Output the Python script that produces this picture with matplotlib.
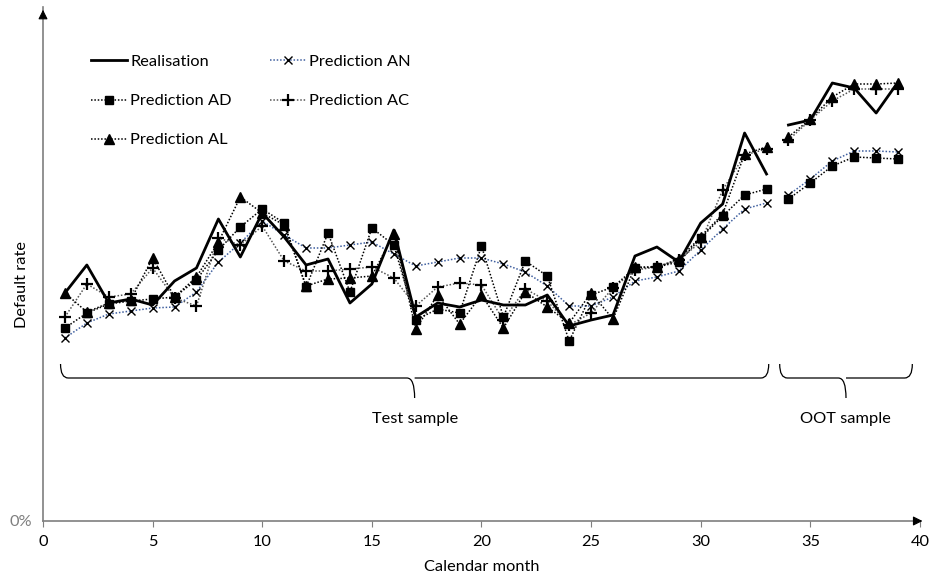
import matplotlib.pyplot as plt
from matplotlib.path import Path
from matplotlib.patches import PathPatch

plt.rcParams['font.family'] = ['Lato', 'DejaVu Sans']

# calendar months
test_months = list(range(1, 34))
oot_months = list(range(34, 40))

# default rates (arbitrary % scale, only 0% is labelled)
real_test = [2.28, 2.56, 2.18, 2.22, 2.16, 2.40, 2.53, 3.02, 2.64, 3.08, 2.84, 2.56, 2.62, 2.18, 2.37, 2.91, 2.04,
             2.18, 2.14, 2.21, 2.16, 2.16, 2.26, 1.95, 2.01, 2.06, 2.65, 2.74, 2.59, 2.98, 3.17, 3.88, 3.47]
real_oot = [3.96, 4.01, 4.38, 4.33, 4.08, 4.39]

an_test = [1.83, 1.98, 2.07, 2.10, 2.13, 2.14, 2.29, 2.59, 2.78, 3.00, 2.86, 2.73, 2.73, 2.76, 2.79, 2.67, 2.55,
           2.59, 2.63, 2.63, 2.57, 2.49, 2.35, 2.15, 2.15, 2.24, 2.40, 2.44, 2.50, 2.71, 2.92, 3.12, 3.18]
an_oot = [3.26, 3.42, 3.60, 3.70, 3.70, 3.69]

ad_test = [1.93, 2.08, 2.17, 2.20, 2.22, 2.24, 2.41, 2.71, 2.94, 3.12, 2.98, 2.34, 2.88, 2.29, 2.93, 2.76, 2.01,
           2.12, 2.08, 2.75, 2.04, 2.60, 2.45, 1.80, 2.26, 2.34, 2.53, 2.54, 2.59, 2.83, 3.05, 3.26, 3.32]
ad_oot = [3.22, 3.38, 3.55, 3.64, 3.63, 3.62]

ac_test = [2.04, 2.37, 2.24, 2.27, 2.53, 2.23, 2.15, 2.83, 2.76, 2.95, 2.60, 2.50, 2.50, 2.52, 2.54, 2.43, 2.15,
           2.34, 2.38, 2.36, 2.01, 2.32, 2.20, 1.96, 2.08, 2.33, 2.51, 2.54, 2.61, 2.79, 3.31, 3.66, 3.72]
ac_oot = [3.81, 4.01, 4.20, 4.32, 4.32, 4.32]

al_test = [2.28, 2.09, 2.18, 2.21, 2.63, 2.24, 2.44, 2.79, 3.24, 3.08, 2.96, 2.35, 2.42, 2.43, 2.45, 2.87, 1.92,
           2.26, 1.97, 2.26, 1.93, 2.29, 2.14, 1.98, 2.28, 2.02, 2.54, 2.54, 2.62, 2.84, 3.07, 3.67, 3.74]
al_oot = [3.84, 4.02, 4.24, 4.37, 4.37, 4.38]

FS = 11.8

fig = plt.figure(figsize=(9.37, 5.81), dpi=100)
ax = fig.add_axes([43 / 937, 60 / 581, 877 / 937, 514 / 581])

dot = dict(linestyle=(0, (1, 1.2)), linewidth=1.1)
series = [
    ("Prediction AN", an_test, an_oot, dict(color='#3f5f9f', marker='x', markersize=6, markeredgecolor='black', markeredgewidth=1.0)),
    ("Prediction AC", ac_test, ac_oot, dict(color='#555555', marker='+', markersize=9, markeredgecolor='black', markeredgewidth=1.6)),
    ("Prediction AD", ad_test, ad_oot, dict(color='black', marker='s', markersize=6, markerfacecolor='black', markeredgecolor='black')),
    ("Prediction AL", al_test, al_oot, dict(color='black', marker='^', markersize=7.5, markerfacecolor='black', markeredgecolor='black')),
]
handles = {}
for name, t, o, st in series:
    h, = ax.plot(test_months, t, label=name, **dot, **st)
    ax.plot(oot_months, o, **dot, **st)
    handles[name] = h

h, = ax.plot(test_months, real_test, color='black', linewidth=2, label="Realisation")
ax.plot(oot_months, real_oot, color='black', linewidth=2)
handles["Realisation"] = h

order = ["Realisation", "Prediction AD", "Prediction AL", "Prediction AN", "Prediction AC"]
ax.legend([handles[k] for k in order], order, ncol=2, frameon=False, loc='upper left',
          bbox_to_anchor=(76 / 937, 1 - 40 / 581), bbox_transform=fig.transFigure,
          fontsize=FS, handlelength=2.2, handletextpad=0.2, labelspacing=1.5, columnspacing=2.35)


# curly brackets below the curves
def brace(x0, x1, y_top, y_mid, y_tip, r=0.35):
    xm = (x0 + x1) / 2
    verts = [(x0, y_top), (x0, y_mid), (x0 + r, y_mid),
             (xm - r, y_mid), (xm, y_mid), (xm, y_tip),
             (xm, y_mid), (xm + r, y_mid),
             (x1 - r, y_mid), (x1, y_mid), (x1, y_top)]
    codes = [Path.MOVETO, Path.CURVE3, Path.CURVE3,
             Path.LINETO, Path.CURVE3, Path.CURVE3,
             Path.MOVETO, Path.LINETO,
             Path.LINETO, Path.CURVE3, Path.CURVE3]
    ax.add_patch(PathPatch(Path(verts, codes), facecolor='none', edgecolor='black', linewidth=0.9))


brace(0.8, 33.1, 1.57, 1.43, 1.23)
brace(33.6, 39.65, 1.57, 1.43, 1.23)
ax.text(16.95, 1.02, "Test sample", ha='center', va='center', fontsize=FS)
ax.text(36.6, 1.02, "OOT sample", ha='center', va='center', fontsize=FS)

ax.set_xlim(0, 40)
ax.set_ylim(0, 5.14)
ax.set_xticks(range(0, 41, 5))
ax.set_yticks([0])
ax.set_yticklabels(["0%"], color='#7f7f7f')
ax.tick_params(axis='x', direction='out', length=4, color='#7f7f7f', labelsize=FS, pad=6)
ax.tick_params(axis='y', length=0, labelsize=FS, pad=8)
for s in ['top', 'right']:
    ax.spines[s].set_visible(False)
for s in ['left', 'bottom']:
    ax.spines[s].set_color('#7f7f7f')
    ax.spines[s].set_linewidth(1.2)
ax.annotate('', xy=(1.006, 0), xytext=(0.99, 0), xycoords='axes fraction',
            arrowprops=dict(arrowstyle='-|>', color='black', mutation_scale=14, lw=0.8), annotation_clip=False)
ax.annotate('', xy=(0, 1.0), xytext=(0, 0.98), xycoords='axes fraction',
            arrowprops=dict(arrowstyle='-|>', color='black', mutation_scale=14, lw=0.8), annotation_clip=False)
ax.set_xlabel("Calendar month", fontsize=FS, labelpad=8)
fig.text(22 / 937, 1 - 285 / 581, "Default rate", rotation=90, ha='center', va='center', fontsize=FS)

plt.savefig("out.png", dpi=100)
